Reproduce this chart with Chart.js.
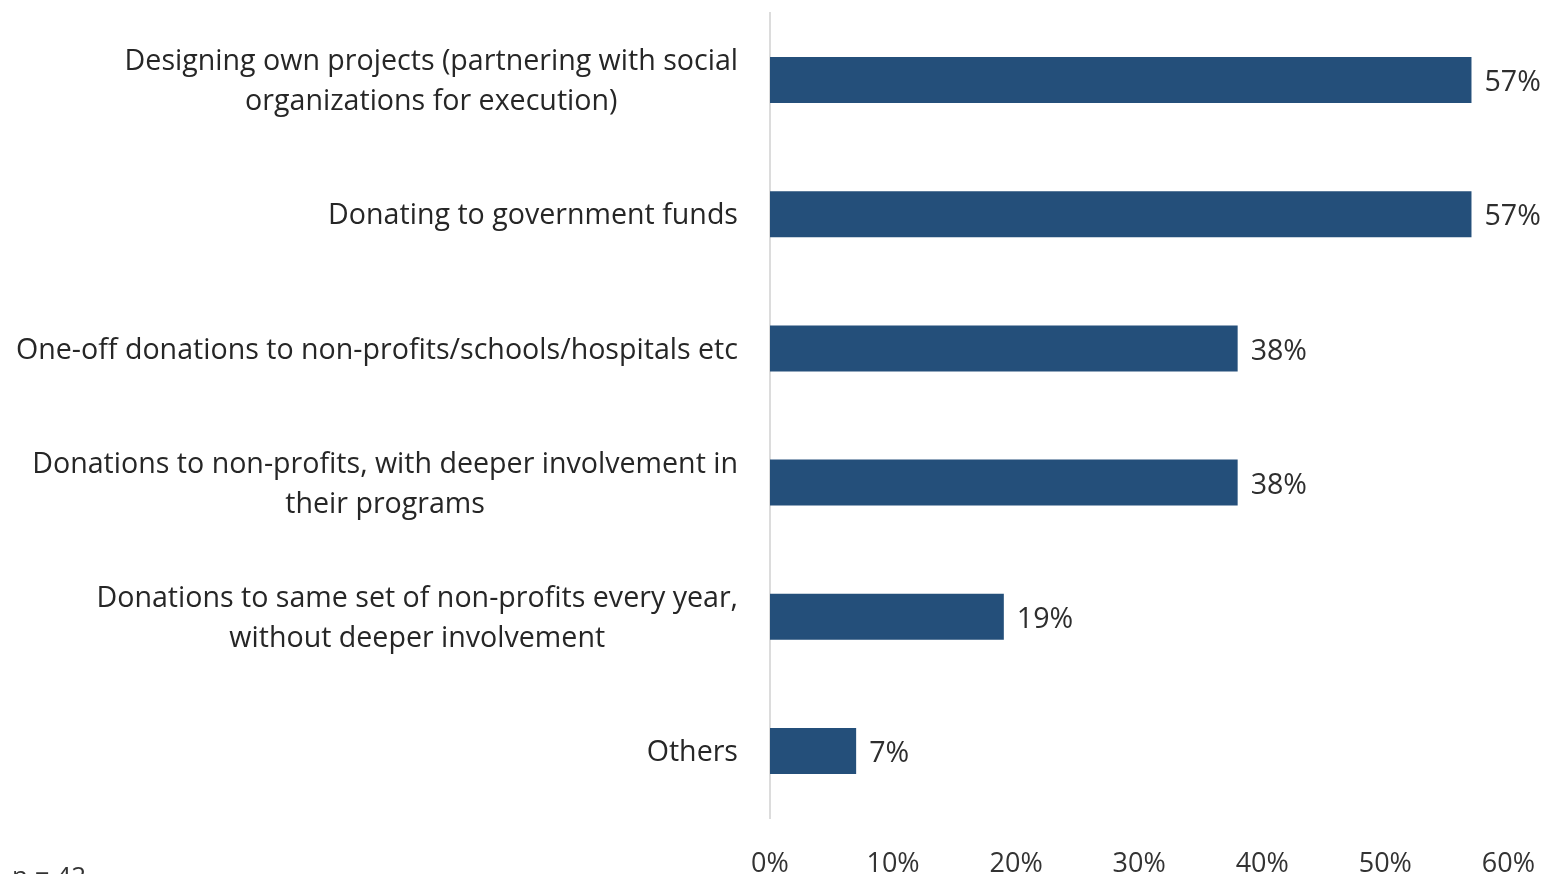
<!DOCTYPE html>
<html>
<head>
<meta charset="utf-8">
<script src="https://cdn.jsdelivr.net/npm/chart.js@4.4.1/dist/chart.umd.min.js"></script>
<style>
  html, body { margin: 0; padding: 0; background: #fff; }
  #wrap { width: 1557px; height: 874px; position: relative; }
</style>
</head>
<body>
<div id="wrap"><canvas id="approachChart"></canvas></div>
<script>
// Données du graphique
const categories = [
    ['Designing own projects (partnering with social', 'organizations for execution)'],
    ['Donating to government funds'],
    ['One-off donations to non-profits/schools/hospitals etc'],
    ['Donations to non-profits, with deeper involvement in', 'their programs'],
    ['Donations to same set of non-profits every year,', 'without deeper involvement'],
    ['Others']
];
const shares = [57, 57, 38, 38, 19, 7];
const tickValues = [0, 10, 20, 30, 40, 50, 60];
const sampleNote = 'n = 42';

const FONT = '"Open Sans", "Noto Sans", sans-serif';
const BAR_COLOR = '#244f7a';

// Libellés des catégories : bloc aligné à droite, lignes centrées
const categoryLabels = {
    id: 'categoryLabels',
    afterDraw(chart) {
        const { ctx, chartArea } = chart;
        const yScale = chart.scales.y;
        ctx.save();
        ctx.font = '28.6px ' + FONT;
        ctx.fillStyle = '#262626';
        ctx.textAlign = 'center';
        ctx.textBaseline = 'middle';
        const right = chartArea.left - 32;
        const lineH = 40;
        categories.forEach((lines, i) => {
            const y = yScale.getPixelForValue(i) + 2;
            const w = Math.max(...lines.map(l => ctx.measureText(l).width));
            const cx = right - w / 2;
            const top = y - (lines.length - 1) * lineH / 2;
            lines.forEach((l, j) => ctx.fillText(l, cx, top + j * lineH));
        });

        // Valeurs au bout des barres
        ctx.textAlign = 'left';
        ctx.fillStyle = '#2e2e2e';
        const meta = chart.getDatasetMeta(0);
        meta.data.forEach((bar, i) => {
            ctx.fillText(shares[i] + '%', bar.x + 13, bar.y + 3);
        });

        // Taille de l'échantillon (en bas à gauche)
        ctx.font = '26px ' + FONT;
        ctx.fillStyle = '#333';
        ctx.textBaseline = 'top';
        ctx.fillText(sampleNote, 12, 865);
        ctx.restore();
    }
};

const ctx = document.getElementById('approachChart').getContext('2d');

new Chart(ctx, {
    type: 'bar',
    data: {
        labels: categories.map(c => c.join(' ')),
        datasets: [{
            data: shares,
            backgroundColor: BAR_COLOR,
            borderWidth: 0,
            barPercentage: 0.343,
            categoryPercentage: 1
        }]
    },
    options: {
        indexAxis: 'y',
        responsive: true,
        maintainAspectRatio: false,
        animation: false,
        layout: {
            padding: { left: 762, right: 46, top: 13, bottom: 0 }
        },
        plugins: {
            legend: { display: false },
            tooltip: { enabled: false }
        },
        scales: {
            x: {
                min: 0,
                max: 60,
                afterBuildTicks(scale) {
                    scale.ticks = tickValues.map(v => ({ value: v }));
                },
                afterFit(scale) {
                    scale.height = 56;
                },
                grid: { display: false },
                border: { display: false },
                ticks: {
                    padding: 22,
                    color: '#333',
                    font: { family: FONT, size: 27 },
                    callback: v => v + '%'
                }
            },
            y: {
                grid: { display: false },
                border: { display: true, color: '#dcdcdc', width: 2 },
                ticks: { display: false }
            }
        }
    },
    plugins: [categoryLabels]
});
</script>
</body>
</html>
